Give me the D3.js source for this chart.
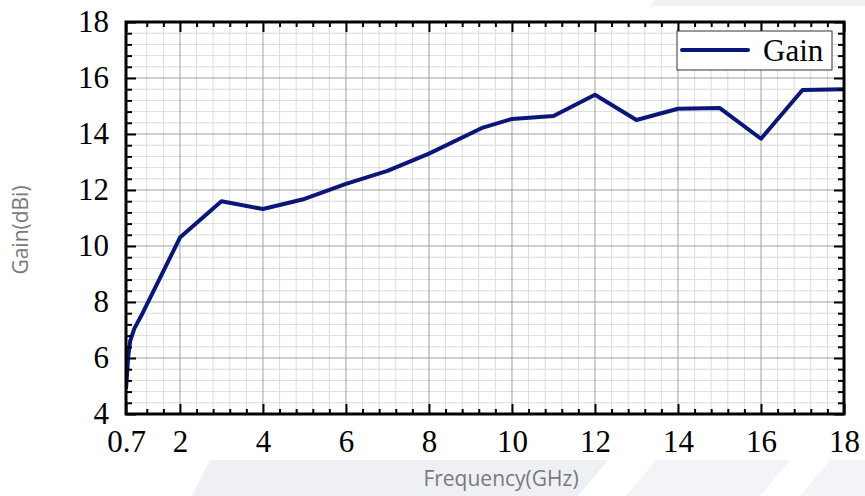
<!DOCTYPE html>
<html><head><meta charset="utf-8">
<script src="https://cdn.jsdelivr.net/npm/d3@7"></script>
<style>html,body{margin:0;padding:0;background:#fff;}svg{display:block;}</style>
</head><body>
<svg id="chart" width="865" height="496"></svg>
<script>
// ---- data ----
const freq = [0.7, 0.72, 0.75, 0.8, 0.9, 1.1, 2, 3, 4, 5, 6, 7, 8, 9.3, 10, 11, 12, 13, 14, 15, 16, 17, 18];
const gain = [4.9, 5.3, 6.0, 6.6, 7.05, 7.6, 10.3, 11.6, 11.32, 11.68, 12.22, 12.68, 13.3, 14.23, 14.54, 14.64, 15.4, 14.5, 14.9, 14.93, 13.83, 15.57, 15.6];
const xMajor = [0.7, 2, 4, 6, 8, 10, 12, 14, 16, 18];
const yMajor = [4, 6, 8, 10, 12, 14, 16, 18];
const seriesName = "Gain";
const xTitle = "Frequency(GHz)";
const yTitle = "Gain(dBi)";

const xMinor = d3.range(1.2, 18.01, 0.4).map(v => +v.toFixed(2)).filter(v => !xMajor.some(m => Math.abs(m - v) < 1e-6));
const yMinor = d3.range(4.4, 18, 0.4).map(v => +v.toFixed(2)).filter(v => !yMajor.some(m => Math.abs(m - v) < 1e-6));

const svg = d3.select("#chart");
const L = 126, R = 844, T = 22, B = 414;
const x = d3.scaleLinear().domain([0.7, 18]).range([L, R]);
const y = d3.scaleLinear().domain([4, 18]).range([B, T]);

// background watermark shapes
const bg = svg.append("g");
bg.append("polygon").attr("points", "192,496 210,460 608,460 578,496").attr("fill", "#eef0f4");
bg.append("polygon").attr("points", "626,496 656,460 790,460 760,496").attr("fill", "#f3f4f7");
bg.append("polygon").attr("points", "800,496 830,460 865,460 865,496").attr("fill", "#f3f4f7");
bg.append("polygon").attr("points", "655,0 865,0 865,6 650,6").attr("fill", "#f0f1f5");

// plot background
svg.append("rect").attr("x", L).attr("y", T).attr("width", R - L).attr("height", B - T).attr("fill", "#fff");

// grid
const grid = svg.append("g");
grid.selectAll(".gxm").data(xMinor).join("line")
  .attr("x1", d => x(d)).attr("x2", d => x(d)).attr("y1", T).attr("y2", B)
  .attr("stroke", "#dcdcdc").attr("stroke-width", 1);
grid.selectAll(".gym").data(yMinor).join("line")
  .attr("y1", d => y(d)).attr("y2", d => y(d)).attr("x1", L).attr("x2", R)
  .attr("stroke", "#dcdcdc").attr("stroke-width", 1);
grid.selectAll(".gxM").data(xMajor).join("line")
  .attr("x1", d => x(d)).attr("x2", d => x(d)).attr("y1", T).attr("y2", B)
  .attr("stroke", "#a0a0a0").attr("stroke-width", 1);
grid.selectAll(".gyM").data(yMajor).join("line")
  .attr("y1", d => y(d)).attr("y2", d => y(d)).attr("x1", L).attr("x2", R)
  .attr("stroke", "#a0a0a0").attr("stroke-width", 1);

// line
svg.append("clipPath").attr("id", "clip").append("rect")
  .attr("x", L).attr("y", T).attr("width", R - L).attr("height", B - T);
const pts = freq.map((f, i) => [f, gain[i]]);
svg.append("path").datum(pts)
  .attr("clip-path", "url(#clip)")
  .attr("fill", "none").attr("stroke", "#0a1678").attr("stroke-width", 4)
  .attr("stroke-linejoin", "round")
  .attr("d", d3.line().x(d => x(d[0])).y(d => y(d[1])));

// axes
const fontSerif = "'Liberation Serif','Times New Roman',serif";
function styleAxis(g, showLabels) {
  g.select(".domain").remove();
  g.selectAll(".tick line").attr("stroke", "#000").attr("stroke-width", 2);
  if (!showLabels) g.selectAll(".tick text").remove();
  else g.selectAll(".tick text").attr("font-family", fontSerif).attr("font-size", 31).attr("fill", "#000");
}
// minor ticks
svg.append("g").attr("transform", `translate(0,${B})`)
  .call(d3.axisBottom(x).tickValues(xMinor).tickSizeInner(-5).tickSizeOuter(0).tickFormat(""))
  .call(g => styleAxis(g, false));
svg.append("g").attr("transform", `translate(0,${T})`)
  .call(d3.axisTop(x).tickValues(xMinor).tickSizeInner(-5).tickSizeOuter(0).tickFormat(""))
  .call(g => styleAxis(g, false));
svg.append("g").attr("transform", `translate(${L},0)`)
  .call(d3.axisLeft(y).tickValues(yMinor).tickSizeInner(-6).tickSizeOuter(0).tickFormat(""))
  .call(g => styleAxis(g, false));
svg.append("g").attr("transform", `translate(${R},0)`)
  .call(d3.axisRight(y).tickValues(yMinor).tickSizeInner(-6).tickSizeOuter(0).tickFormat(""))
  .call(g => styleAxis(g, false));
// major ticks
svg.append("g").attr("transform", `translate(0,${B})`)
  .call(d3.axisBottom(x).tickValues(xMajor).tickSizeInner(-10).tickSizeOuter(0).tickPadding(16).tickFormat(d => String(d)))
  .call(g => styleAxis(g, true));
svg.append("g").attr("transform", `translate(0,${T})`)
  .call(d3.axisTop(x).tickValues(xMajor).tickSizeInner(-10).tickSizeOuter(0).tickFormat(""))
  .call(g => styleAxis(g, false));
svg.append("g").attr("transform", `translate(${L},0)`)
  .call(d3.axisLeft(y).tickValues(yMajor).tickSizeInner(-10).tickSizeOuter(0).tickPadding(17).tickFormat(d => String(d)))
  .call(g => styleAxis(g, true));
svg.append("g").attr("transform", `translate(${R},0)`)
  .call(d3.axisRight(y).tickValues(yMajor).tickSizeInner(-10).tickSizeOuter(0).tickFormat(""))
  .call(g => styleAxis(g, false));

// frame
svg.append("rect").attr("x", L).attr("y", T).attr("width", R - L).attr("height", B - T)
  .attr("fill", "none").attr("stroke", "#000").attr("stroke-width", 3);

// legend
const lg = svg.append("g");
lg.append("rect").attr("x", 677).attr("y", 31).attr("width", 155).attr("height", 39)
  .attr("fill", "#fff").attr("stroke", "#333").attr("stroke-width", 1);
lg.append("line").attr("x1", 682).attr("x2", 748).attr("y1", 50).attr("y2", 50)
  .attr("stroke", "#0a1678").attr("stroke-width", 4).attr("stroke-linecap", "round");
lg.append("text").attr("x", 763).attr("y", 61).attr("font-family", fontSerif).attr("font-size", 31)
  .attr("fill", "#000").text(seriesName);

// axis titles
const fontSans = "'Open Sans','Noto Sans',sans-serif";
svg.append("text").attr("x", 501).attr("y", 486).attr("text-anchor", "middle")
  .attr("font-family", fontSans).attr("font-size", 21).attr("fill", "#7a7a7a").text(xTitle);
svg.append("text").attr("transform", "translate(28,230) rotate(-90)").attr("text-anchor", "middle")
  .attr("font-family", fontSans).attr("font-size", 21).attr("fill", "#7a7a7a").text(yTitle);
</script>
</body></html>
